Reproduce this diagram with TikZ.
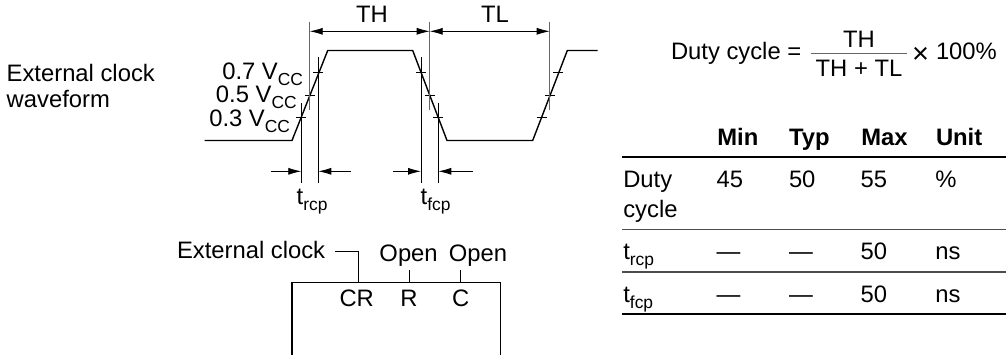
\documentclass[tikz,border=0pt]{standalone}
\usepackage{fontspec}
\setmainfont{Liberation Sans}
\usetikzlibrary{arrows.meta}
\newcommand{\lowtxt}[1]{\raisebox{-3pt}{\fontsize{8.7pt}{10pt}\selectfont #1}}

\begin{document}
\begin{tikzpicture}
    [
        x=0.5pt, y=-0.5pt,
        wave/.style={black,line width=0.7pt,line join=miter},
        guide/.style={black,line width=0.4pt},
        guide1/.style={black!60,line width=0.6pt},
        dim/.style={black,line width=0.4pt,{Latex[length=6.5pt,width=3.5pt]}-{Latex[length=6.5pt,width=3.5pt]}},
        dim1/.style={black,line width=0.4pt,-{Latex[length=6.5pt,width=3.5pt]}},
        pin/.style={black,line width=0.5pt},
        box/.style={black,line width=0.7pt},
        thinrule/.style={black!70,line width=0.6pt},
        thickrule/.style={black,line width=1.1pt},
        txt/.style={inner sep=0pt,outer sep=0pt,font=\fontsize{11.9pt}{14pt}\selectfont,anchor=base west},
        txtc/.style={txt,anchor=base},
        txte/.style={txt,anchor=base east},
        head/.style={txt,font=\fontsize{11.9pt}{14pt}\selectfont\bfseries}
    ]
    \useasboundingbox (0,0) rectangle (1006,359);

    % waveform
    \draw[wave] (204.7,140.5) -- (292,140.5) -- (327.7,50.5) -- (412.7,50.5)
        -- (447,140.5) -- (532.7,140.5) -- (567.3,50.5) -- (597.7,50.5);
    \foreach \tx/\ty in {318.3/72.7,310/95.3,301.3/117.7,421/72.7,429.7/95.3,438.3/117.7,558.3/72.7,550/95.3,541.7/117.7}
    {
        \draw[guide] (\tx-5,\ty) -- (\tx+5,\ty);
    }

    \coordinate[] (th0) at (309.7,31.3);
    \coordinate[] (th1) at (429.7,31.3);
    \coordinate[] (tl1) at (549.7,31.3);
    \foreach \i in {th0,th1,tl1}
    {
        \draw[guide1] (\i) ++(0,-9.6) -- ++(0,88.3);
    }
    \draw[dim] (th0) -- (th1);
    \draw[dim] (th1) -- (tl1);
    \node[txtc] (labTH) at (372,22.7) {TH};
    \node[txtc] (labTL) at (495,22.7) {TL};

    % rise and fall times
    \draw[guide] (301.3,103) -- (301.3,182.7);
    \draw[guide] (318.3,57.3) -- (318.3,182.7);
    \draw[guide] (421,57.3) -- (421,182.7);
    \draw[guide] (438.3,103) -- (438.3,182.7);
    \draw[dim1] (270.7,171.3) -- (301.3,171.3);
    \draw[dim1] (350.7,171.3) -- (318.3,171.3);
    \draw[dim1] (393,171.3) -- (421,171.3);
    \draw[dim1] (473,171.3) -- (438.3,171.3);
    \node[txt] (labrcp) at (296.7,204) {t\lowtxt{rcp}};
    \node[txt] (labfcp) at (420.7,204) {t\lowtxt{fcp}};

    \node[txte] (lab07) at (303,79) {0.7 V\lowtxt{CC}};
    \node[txte] (lab05) at (296.7,102.7) {0.5 V\lowtxt{CC}};
    \node[txte] (lab03) at (290,126.7) {0.3 V\lowtxt{CC}};
    \node[txt] (labext) at (6.7,81.7) {External clock};
    \node[txt] (labwave) at (6.7,107.3) {waveform};

    % chip
    \draw[box] (292,355) -- (292,282.3) -- (500.7,282.3) -- (500.7,355);
    \node[txt] (labclk) at (177,258) {External clock};
    \node[txtc] (labopen1) at (408.6,261.7) {Open};
    \node[txtc] (labopen2) at (478,261.7) {Open};
    \node[txtc] (labCR) at (356.7,306.7) {CR};
    \node[txtc] (labR) at (409,306.7) {R};
    \node[txtc] (labC) at (460.7,306.7) {C};
    \draw[pin] (335,251.7) -- (358.3,251.7) -- (358.3,282.3);
    \draw[pin] (409.3,270) -- (409.3,282.3);
    \draw[pin] (460.7,270) -- (460.7,282.3);

    % formula
    \node[txt] (labduty) at (671,59) {Duty cycle =};
    \node[txtc] (fracup) at (859,47.3) {TH};
    \node[txtc] (fracdn) at (859,76) {TH + TL};
    \draw[guide1] (810.7,53.7) -- (907.3,53.7);
    \node[txtc,font=\fontsize{14.5pt}{16pt}\selectfont] (labtimes) at (920.7,63) {×};
    \node[txt] (labpct) at (936,59) {100\%};

    % table
    \foreach \x/\t in {717.3/Min,789/Typ,861.3/Max,936/Unit}
    {
        \node[head] at (\x,145) {\t};
    }
    \draw[thickrule] (622,156.7) -- (1006,156.7);
    \node[txt] (labr1) at (623.3,187.3) {Duty};
    \node[txt] (labr2) at (623.3,217.3) {cycle};
    \foreach \x/\t in {716.7/45,789/50,860.7/55,935.3/\%}
    {
        \node[txt] at (\x,187.3) {\t};
    }
    \draw[thinrule] (622,229.3) -- (1006,229.3);
    \node[txt] (labr3) at (623.3,259.3) {t\lowtxt{rcp}};
    \node[txt] (labr4) at (623.3,302.3) {t\lowtxt{fcp}};
    \foreach \y in {259.3,302.3}
    {
        \foreach \x/\t in {716.7/—,789/—,860.7/50,935.3/ns}
        {
            \node[txt] at (\x,\y) {\t};
        }
    }
    \draw[thinrule] (622,272) -- (1006,272);
    \draw[thickrule] (622,314.3) -- (1006,314.3);
\end{tikzpicture}
\end{document}
